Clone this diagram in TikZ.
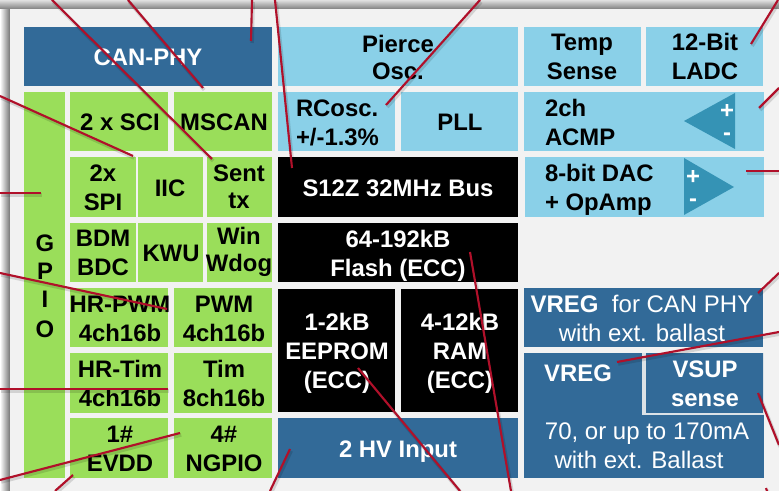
\documentclass[tikz,border=0pt]{standalone}
\usepackage{fontspec}
\setmainfont{Liberation Sans}
\usetikzlibrary{shadings}
\definecolor{panel}{HTML}{F2F2F2}
\definecolor{grn}{HTML}{9ADE5A}
\definecolor{lblue}{HTML}{8AD0E8}
\definecolor{dblue}{HTML}{326A98}
\definecolor{tri}{HTML}{3593B5}
\definecolor{redl}{HTML}{B0102A}
\tikzset{
  x=0.75pt,y=-0.75pt,
  boxn/.style={inner sep=0pt,outer sep=0pt,draw=none},
  gbox/.style={boxn,fill=grn},
  lbox/.style={boxn,fill=lblue},
  dbox/.style={boxn,fill=dblue},
  kbox/.style={boxn,fill=black},
  lab/.style={inner sep=0pt,outer sep=0pt,anchor=base,align=center,font=\fontsize{17.9}{21.75}\selectfont\bfseries},
  labk/.style={lab,text=black},
  labw/.style={lab,text=white},
  labt/.style={lab,font=\fontsize{17.9}{20.25}\selectfont\bfseries},
  labl/.style={lab,anchor=base west,align=left},
  labpm/.style={lab,text=white,font=\fontsize{17.9}{16.5}\selectfont\bfseries},
  reg/.style={inner sep=0pt,outer sep=0pt,anchor=base,align=center,text=white,font=\fontsize{18}{21.75}\selectfont},
  redline/.style={draw=redl,line width=1.6pt},
  redshadow/.style={draw=black,opacity=0.13,line width=2.6pt},
  trin/.style={fill=tri,draw=none},
}
% \bx[style]{name}{x0}{y0}{x1}{y1}
\newcommand{\bx}[6][]{%
  \path (#3,#4) -- (#5,#6) node[midway,#1,minimum width={(#5-#3)*0.75pt},minimum height={(#6-#4)*0.75pt}] (#2) {};}
% \tl[style]{name}{x}{ybase}{text}
\newcommand{\tl}[5][labk]{\node[#1] (#2) at (#3,#4) {#5};}
% \rl{name}{x0}{y0}{x1}{y1}
\newcommand{\rl}[5]{%
  \coordinate (#1a) at (#2,#3); \coordinate (#1b) at (#4,#5);
  \draw[redshadow,transform canvas={xshift=0.9pt,yshift=-1.5pt}] (#1a) -- (#1b);
  \draw[redline] (#1a) -- (#1b);}
\begin{document}
\begin{tikzpicture}
\useasboundingbox (0,0) rectangle (779,491);
\clip (0,0) rectangle (779,491);
% page and drop shadow
\shade[left color=white,right color=black!55] (0,9) rectangle (10,491);
\shade[top color=black!12,bottom color=black!50] (0,0) rectangle (779,9);
\fill[panel] (10,9) rectangle (779,491);
% CAN / green column
\bx[dbox]{can}{24}{27}{272}{86}
\bx[gbox]{gpio}{24}{92}{65}{478}
\bx[gbox]{sci}{70}{92}{168}{151}
\bx[gbox]{mscan}{174}{92}{272}{151}
\bx[gbox]{spi}{70}{157}{136}{217}
\bx[gbox]{iic}{138}{157}{203}{217}
\bx[gbox]{sent}{207}{157}{272}{217}
\bx[gbox]{bdm}{70}{223}{136}{282}
\bx[gbox]{kwu}{138}{223}{203}{282}
\bx[gbox]{win}{207}{223}{272}{282}
\bx[gbox]{hrpwm}{70}{288}{168}{347}
\bx[gbox]{pwm}{174}{288}{272}{347}
\bx[gbox]{hrtim}{70}{353}{168}{413}
\bx[gbox]{tim}{174}{353}{272}{413}
\bx[gbox]{evdd}{70}{418}{168}{478}
\bx[gbox]{ngpio}{174}{418}{272}{478}
% middle column
\bx[lbox]{pierce}{278}{27}{518}{86}
\bx[lbox]{rcosc}{278}{92}{395}{151}
\bx[lbox]{pll}{401}{92}{518}{151}
\bx[kbox]{s12z}{278}{157}{518}{217}
\bx[kbox]{flash}{278}{223}{518}{282}
\bx[kbox]{eeprom}{278}{289}{395}{412}
\bx[kbox]{ram}{401}{289}{518}{412}
\bx[dbox]{hv}{278}{418}{518}{478}
% right column
\bx[lbox]{temp}{524}{27}{641}{86}
\bx[lbox]{ladc}{646}{27}{763}{86}
\bx[lbox]{acmp}{524}{92}{764}{151}
\bx[lbox]{dac}{525}{157}{764}{217}
\bx[dbox]{vregcan}{524}{288}{763}{347}
\bx[dbox]{vreg}{524}{353}{764}{478}
\fill[panel!88!dblue] (642,353) rectangle (764,415);
\bx[dbox]{vsup}{646}{353}{763}{413}
% amplifier triangles
\fill[trin] (684,121) -- (735,93) -- (735,149) -- cycle;
\fill[trin] (684,158) -- (684,215) -- (734,187) -- cycle;
% texts
\tl[labw]{cant}{148}{66}{CAN-PHY}
\tl{gt}{45}{252}{G}
\tl{pt}{45}{280}{P}
\tl{it}{45}{308}{I}
\tl{ot}{45}{338}{O}
\tl{scit}{120}{131}{2 x SCI}
\tl{mscant}{224}{131}{MSCAN}
\tl{spit}{103}{211}{2x\\SPI}
\tl{iict}{170}{197}{IIC}
\tl[labt]{sentt}{239}{209}{Sent\\tx}
\tl{bdmt}{103}{276}{BDM\\BDC}
\tl{kwut}{171}{262}{KWU}
\tl[labt]{wint}{239}{272}{Win\\Wdog}
\tl{hrpwmt}{120}{342}{HR-PWM\\4ch16b}
\tl{pwmt}{224}{342}{PWM\\4ch16b}
\tl{hrtimt}{120}{407}{HR-Tim\\4ch16b}
\tl{timt}{224}{407}{Tim\\8ch16b}
\tl{evddt}{120}{472}{1\#\\EVDD}
\tl{ngpiot}{224}{472}{4\#\\NGPIO}
\tl[labt]{piercet}{398}{80}{Pierce\\Osc.}
\tl{tempt}{582}{80}{Temp\\Sense}
\tl{ladct}{705}{80}{12-Bit\\LADC}
\tl[labl]{rcosct}{296}{146}{RCosc.\\+/-1.3\%}
\tl{pllt}{460}{131}{PLL}
\tl[labl]{acmpt}{545}{146}{2ch\\ACMP}
\tl[labl]{dact}{545}{211}{8-bit DAC\\+ OpAmp}
\tl[labw]{s12zt}{398}{197}{S12Z 32MHz Bus}
\tl[labw]{flasht}{398}{277}{64-192kB\\Flash (ECC)}
\tl[labw]{eepromt}{337}{389}{1-2kB\\EEPROM\\(ECC)}
\tl[labw]{ramt}{460}{389}{4-12kB\\RAM\\(ECC)}
\tl[labw]{hvt}{398}{458}{2 HV Input}
\tl[reg]{vregcant}{642}{342}{\textbf{VREG}\ \ for CAN PHY\\with ext. ballast}
\tl[labw]{vregt}{578}{382}{VREG}
\tl[labw]{vsupt}{705}{407}{VSUP\\sense}
\tl[reg]{vregbt}{639}{469}{\hspace*{12pt}70, or up to 170mA\\with ext. Ballast}
\tl[labpm]{pma}{727}{141}{+\\-}
\tl[labpm]{pmd}{693}{207}{+\\-}
% leader lines
\rl{l1}{52}{0}{212}{159}
\rl{l2}{128}{0}{203}{88}
\rl{l3}{252}{0}{251}{41}
\rl{l4}{275}{0}{292}{168}
\rl{l5}{0}{96}{133}{156}
\rl{l6}{0}{193}{41}{193}
\rl{l7}{0}{273}{167}{309}
\rl{l8}{0}{389}{168}{389}
\rl{l9}{0}{480}{180}{433}
\rl{l10}{55}{491}{73}{475}
\rl{l11}{270}{491}{290}{449}
\rl{l12}{480}{0}{386}{105}
\rl{l13}{778}{0}{751}{44}
\rl{l14}{779}{88}{759}{108}
\rl{l15}{779}{171}{746}{171}
\rl{l16}{779}{273}{758}{293}
\rl{l17}{779}{332}{617}{362}
\rl{l18}{779}{445}{758}{393}
\rl{l19}{470}{252}{511}{491}
\rl{l20}{358}{368}{460}{491}
\rl{l21}{766}{488}{767}{491}
\end{tikzpicture}
\end{document}
